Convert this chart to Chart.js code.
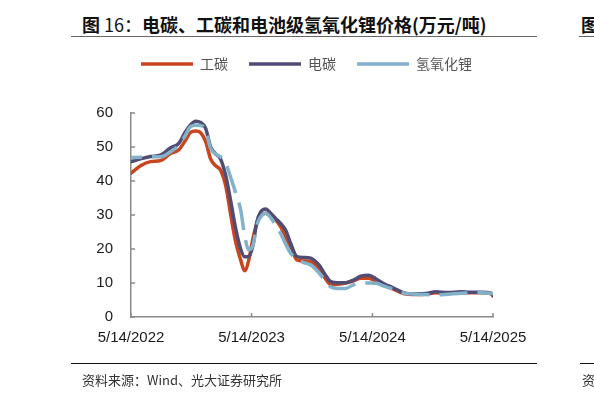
<!DOCTYPE html>
<html lang="zh-CN">
<head>
    <meta charset="UTF-8">
    <title>电碳、工碳和电池级氢氧化锂价格</title>
    <style>
        html, body {
            margin: 0;
            padding: 0;
            background: #ffffff;
        }

        body {
            position: relative;
            width: 594px;
            height: 397px;
            overflow: hidden;
            font-family: 'Noto Sans CJK SC', 'Noto Sans', sans-serif;
        }

        #chart {
            position: absolute;
            left: 0;
            top: 0;
        }

        .title {
            position: absolute;
            left: 82px;
            top: 15px;
            font-size: 18px;
            line-height: 18px;
            font-weight: 700;
            color: #111;
            white-space: nowrap;
        }

        .title .num {
            font-weight: 400;
        }

        .rule {
            position: absolute;
            height: 0;
        }

        .rule.top {
            top: 36px;
            border-top: 1.5px solid #666;
        }

        .rule.bottom {
            top: 363px;
            border-top: 1.5px solid #111;
        }

        .source {
            position: absolute;
            left: 82px;
            top: 373px;
            font-size: 13px;
            line-height: 13px;
            color: #333;
            white-space: nowrap;
        }
    </style>
</head>
<body>
    <div class="title">图<span class="num"> 16：</span>电碳、工碳和电池级氢氧化锂价格(万元/吨)</div>
    <div class="rule top" style="left:71px;width:466px;"></div>
    <div class="title" style="left:581px;">图</div>
    <div class="rule top" style="left:579px;width:15px;"></div>

    <canvas id="chart" width="594" height="397"></canvas>

    <div class="rule bottom" style="left:71px;width:466px;"></div>
    <div class="source">资料来源：Wind、光大证券研究所</div>
    <div class="rule bottom" style="left:580px;width:14px;"></div>
    <div class="source" style="left:582px;">资</div>

    <script src="https://cdn.jsdelivr.net/npm/chart.js"></script>
    <script>
        // days since 5/14/2022
        const dayOffsets = [0, 29, 59, 89, 120, 144, 165, 180, 196, 211, 226, 241, 256, 271, 287, 302, 317, 332, 344, 356,
            369, 381, 393, 408, 423, 438, 453, 468, 484, 502, 523, 544, 569, 587, 605, 626, 650, 672, 696, 720,
            742, 766, 793, 827, 863, 893, 923, 960, 1000, 1029, 1060, 1090, 1096];

        // 工碳
        const industrialCarbon = [42.3, 44.5, 45.7, 46.0, 48.1, 49.1, 52.0, 54.3, 54.7, 54.2, 51.6, 46.5, 44.5, 43.2, 38.5, 30.0, 22.0, 16.8, 13.6, 16.5,
            23.0, 27.5, 29.8, 30.5, 29.7, 28.5, 26.6, 23.5, 20.5, 16.8, 16.5, 16.3, 14.3, 11.5, 9.5, 9.6, 10.0, 10.6, 11.4, 11.4,
            10.5, 9.4, 8.3, 6.8, 6.6, 6.7, 7.1, 7.0, 7.2, 7.1, 7.1, 6.8, 6.2];

        // 电碳
        const batteryCarbon = [45.7, 46.5, 47.2, 47.6, 49.8, 51.0, 54.5, 56.5, 57.6, 57.2, 55.5, 50.0, 48.0, 46.5, 41.5, 34.0, 26.0, 20.0, 17.7, 17.8,
            21.0, 28.0, 31.0, 31.8, 30.5, 29.0, 27.5, 25.6, 21.5, 17.8, 17.5, 17.3, 15.3, 12.6, 10.4, 10.1, 10.1, 10.8, 12.0, 12.3,
            11.2, 9.8, 8.6, 7.1, 6.8, 6.9, 7.4, 7.2, 7.4, 7.3, 7.3, 7.0, 6.4];

        // 氢氧化锂
        const lithiumHydroxide = [46.9, 47.0, 47.1, 47.1, 48.6, 50.5, 53.5, 56.0, 56.4, 56.3, 55.0, 49.6, 48.0, 47.1, 45.2, 41.0, 36.5, 31.5, 24.0, 19.8,
            21.0, 27.0, 29.5, 30.5, 29.2, 27.0, 24.6, 21.5, 18.7, 17.0, 16.0, 15.3, 13.0, 10.8, 8.8, 8.4, 8.4, 9.4, 9.9, 10.0,
            9.9, 9.1, 8.2, 7.0, 6.7, 6.6, 6.5, 6.7, 7.0, 7.1, 7.1, 7.0, 6.8];

        const seriesNames = ['工碳', '电碳', '氢氧化锂'];
        const tickDays = [0, 365, 731, 1096];
        const tickLabels = ['5/14/2022', '5/14/2023', '5/14/2024', '5/14/2025'];
        const yTicks = [0, 10, 20, 30, 40, 50, 60];

        const axisColor = '#8a8a8a';

        function toPoints(values) {
            return values.map((v, i) => ({ x: dayOffsets[i], y: v }));
        }

        // more room under the legend, and nudge it right so it sits over the plot
        const legendPlacement = {
            id: 'legendPlacement',
            beforeInit(chart) {
                const fit = chart.legend.fit;
                chart.legend.fit = function () {
                    fit.call(this);
                    this.height += 32;
                };
            },
            afterLayout(chart) {
                chart.legend.left += 30;
                chart.legend.right += 30;
            }
        };

        // small tick marks pointing into the plot
        const innerTicks = {
            id: 'innerTicks',
            beforeDatasetsDraw(chart) {
                const { ctx, scales: { x, y } } = chart;
                ctx.save();
                ctx.strokeStyle = axisColor;
                ctx.lineWidth = 1.5;
                y.ticks.forEach(t => {
                    const py = y.getPixelForValue(t.value);
                    ctx.beginPath();
                    ctx.moveTo(x.left, py);
                    ctx.lineTo(x.left + 4, py);
                    ctx.stroke();
                });
                x.ticks.forEach(t => {
                    const px = x.getPixelForValue(t.value);
                    ctx.beginPath();
                    ctx.moveTo(px, y.bottom);
                    ctx.lineTo(px, y.bottom - 4);
                    ctx.stroke();
                });
                ctx.restore();
            }
        };

        const ctx = document.getElementById('chart').getContext('2d');

        new Chart(ctx, {
            type: 'line',
            data: {
                datasets: [
                    {
                        label: seriesNames[0],
                        data: toPoints(industrialCarbon),
                        borderColor: '#c9441f',
                        backgroundColor: '#c9441f',
                        borderWidth: 3.5,
                        borderCapStyle: 'round',
                        order: 2
                    },
                    {
                        label: seriesNames[1],
                        data: toPoints(batteryCarbon),
                        borderColor: '#514c74',
                        backgroundColor: '#514c74',
                        borderWidth: 3.5,
                        borderCapStyle: 'round',
                        order: 1
                    },
                    {
                        label: seriesNames[2],
                        data: toPoints(lithiumHydroxide),
                        borderColor: '#82b2c9',
                        backgroundColor: '#82b2c9',
                        borderWidth: 3.5,
                        borderDash: [28, 10],
                        borderDashOffset: 17,
                        borderCapStyle: 'butt',
                        order: 0
                    }
                ]
            },
            options: {
                responsive: false,
                animation: false,
                devicePixelRatio: 1,
                layout: {
                    padding: { top: 36, left: 60, right: 101, bottom: 0 }
                },
                elements: {
                    point: { radius: 0 },
                    line: { cubicInterpolationMode: 'monotone' }
                },
                plugins: {
                    legend: {
                        position: 'top',
                        labels: {
                            usePointStyle: true,
                            pointStyle: 'line',
                            pointStyleWidth: 52,
                            padding: 21,
                            color: '#555',
                            font: { family: "'Noto Sans CJK SC', sans-serif", size: 14 },
                            sort: (a, b) => a.datasetIndex - b.datasetIndex
                        }
                    },
                    tooltip: { enabled: false }
                },
                scales: {
                    x: {
                        type: 'linear',
                        min: 0,
                        max: 1096,
                        afterBuildTicks: scale => {
                            scale.ticks = tickDays.map(v => ({ value: v }));
                        },
                        afterFit: scale => {
                            scale.height = 80;
                        },
                        grid: { display: false, drawTicks: false },
                        border: { display: true, color: axisColor, width: 1.5 },
                        ticks: {
                            autoSkip: false,
                            maxRotation: 0,
                            padding: 12,
                            color: '#1a1a1a',
                            font: { family: "'Liberation Sans', Arial, sans-serif", size: 15 },
                            callback: value => tickLabels[tickDays.indexOf(value)]
                        }
                    },
                    y: {
                        min: 0,
                        max: 60,
                        afterBuildTicks: scale => {
                            scale.ticks = yTicks.map(v => ({ value: v }));
                        },
                        afterFit: scale => {
                            scale.width = 71;
                        },
                        grid: { display: false, drawTicks: false },
                        border: { display: true, color: axisColor, width: 1.5 },
                        ticks: {
                            padding: 18,
                            color: '#1a1a1a',
                            font: { family: "'Liberation Sans', Arial, sans-serif", size: 15 }
                        }
                    }
                }
            },
            plugins: [legendPlacement, innerTicks]
        });
    </script>
</body>
</html>
